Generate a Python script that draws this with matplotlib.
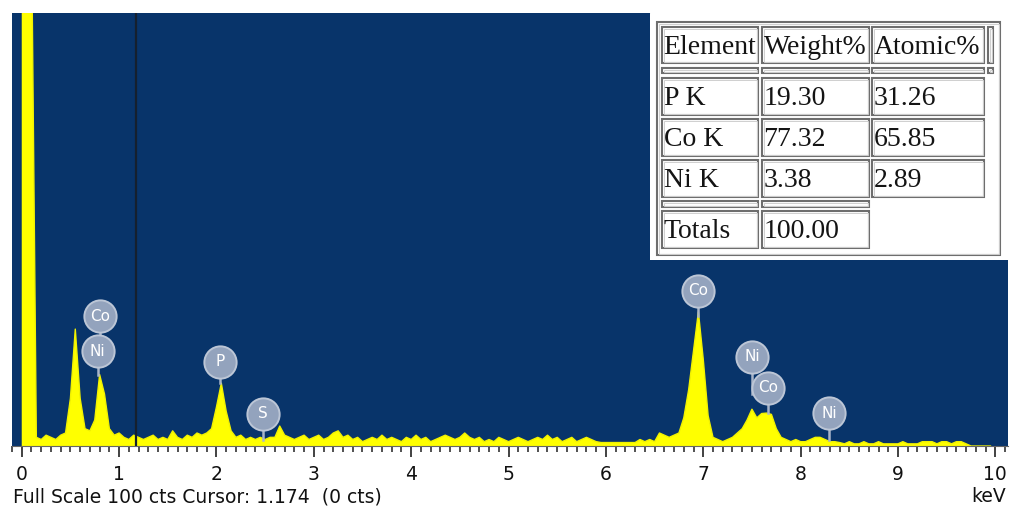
import numpy as np
import matplotlib.pyplot as plt
from matplotlib.patches import Rectangle
from matplotlib.ticker import MultipleLocator

# spectrum, counts per 0.05 keV channel starting at 0 keV
channel_kev = 0.05
counts = [
    120, 120, 120, 2.0, 1.5, 2.5, 2.0, 1.5, 2.5, 3.0,          # 0.00 - 0.45
    11, 27, 11, 4, 3.5, 6, 16.5, 12, 4, 2.5,                    # 0.50 - 0.95
    3, 2, 1.5, 2.5, 2, 1.5, 2, 2.5, 1.5, 2,                     # 1.00 - 1.45
    1.5, 3.5, 2, 1.5, 2.5, 2, 3, 2.5, 3, 4,                     # 1.50 - 1.95
    9, 14.5, 8, 3.5, 2, 2.5, 1.5, 2, 1.5, 2,                    # 2.00 - 2.45
    1.5, 2, 2, 4.6, 2.5, 2, 1.5, 2, 2.5, 1.5,                   # 2.50 - 2.95
    2, 2.5, 1.5, 2, 3, 3.5, 2, 2.5, 1.5, 2,                     # 3.00 - 3.45
    1, 1.5, 2, 1.5, 2.5, 1.5, 2, 1.5, 1, 2,                     # 3.50 - 3.95
    1.5, 2.5, 1.5, 2, 1, 1.5, 2, 2.5, 2, 1.5,                   # 4.00 - 4.45
    2, 3, 2, 1.5, 2, 1, 1.5, 1, 2, 1.5,                         # 4.50 - 4.95
    1, 1.5, 2, 1.5, 1, 1.5, 2, 1.5, 2.5, 1.5,                   # 5.00 - 5.45
    2, 1, 1.5, 2, 1, 1.5, 2, 1.5, 1, 0.8,                       # 5.50 - 5.95
    0.8, 0.8, 0.8, 0.8, 0.8, 0.8, 0.8, 1.5, 1, 1.5,             # 6.00 - 6.45
    1, 3, 2.5, 2, 2.5, 3, 6.5, 13, 22, 31,                      # 6.50 - 6.95
    20, 7, 2, 1.5, 1, 1.5, 2, 3, 4, 6,                          # 7.00 - 7.45
    8.5, 6.5, 7.5, 7.6, 7.3, 4, 2, 1.5, 1, 1.5,                 # 7.50 - 7.95
    1, 1, 1.5, 2, 2, 1.5, 1, 1, 0.8, 0.5,                       # 8.00 - 8.45
    1, 0.5, 0.5, 1, 0.5, 0.5, 1, 0.5, 0.5, 0.5,                 # 8.50 - 8.95
    0.5, 1, 0.5, 0.5, 0.5, 1, 1, 1, 0.5, 1,                     # 9.00 - 9.45
    1, 0.5, 1, 1, 0.5, 0, 0, 0, 0, 0,                           # 9.50 - 9.95
]

# peak markers
peak_labels = ['Co', 'Ni', 'P', 'S', 'Co', 'Ni', 'Co', 'Ni']
peak_kev = [0.805, 0.78, 2.04, 2.48, 6.95, 7.50, 7.67, 8.29]
peak_label_cts = [30.0, 21.9, 19.4, 7.4, 35.8, 20.6, 13.4, 7.6]
peak_stem_cts = [21.9, 16.5, 14.5, 1.5, 30.0, 12.0, 7.6, 1.5]

cursor_kev = 1.174
full_scale = 100

# quantification table
table_header = ['Element', 'Weight%', 'Atomic%']
table_elements = ['P K', 'Co K', 'Ni K']
table_weight = ['19.30', '77.32', '3.38']
table_atomic = ['31.26', '65.85', '2.89']
total_weight = '100.00'

W, H = 1011, 512
fig = plt.figure(figsize=(W / 100, H / 100), dpi=100)
fig.patch.set_facecolor('white')


def px_rect(x0, y0, x1, y1):
    return [x0 / W, 1 - y1 / H, (x1 - x0) / W, (y1 - y0) / H]


ax = fig.add_axes(px_rect(12, 13, 1008, 446))
ax.set_facecolor('#08346a')

energy = np.arange(len(counts)) * channel_kev
ax.fill_between(energy, counts, 0, color='#ffff00', lw=0)
ax.plot(energy, counts, color='#f2f200', lw=1.0)

ax.axvline(cursor_kev, color='#15202e', lw=1.6)

# peak id markers
for lab, x, yc, ys in zip(peak_labels, peak_kev, peak_label_cts, peak_stem_cts):
    ax.plot([x, x], [yc, ys], color='#a9b5c9', lw=1.8, zorder=4)
for lab, x, yc in zip(peak_labels, peak_kev, peak_label_cts):
    ax.scatter([x], [yc], s=540, color='#93a3bd', edgecolors='#bcc6d6',
               linewidths=1.4, zorder=5)
    ax.text(x, yc, lab, color='white', fontsize=11, ha='center',
            va='center', zorder=6)

ax.set_xlim(-0.10, 10.13)
ax.set_ylim(0, full_scale)
ax.set_yticks([])
ax.xaxis.set_major_locator(MultipleLocator(1))
ax.xaxis.set_minor_locator(MultipleLocator(0.1))
ax.tick_params(axis='x', which='major', length=8, width=1.3, color='#333333',
               pad=6, labelsize=13.5, labelcolor='#111111')
ax.tick_params(axis='x', which='minor', length=4, width=1.2, color='#333333')
ax.set_xticks(range(11))
for s in ['top', 'left', 'right']:
    ax.spines[s].set_visible(False)
ax.spines['bottom'].set_color('#666666')

fig.text(13 / W, 1 - 497 / H, 'Full Scale %d cts Cursor: %.3f  (0 cts)' % (full_scale, cursor_kev),
         fontsize=13.5, color='#111111', ha='left', va='center')
fig.text(1006 / W, 1 - 497 / H, 'keV', fontsize=13.5, color='#111111',
         ha='right', va='center')

# table panel, drawn in image pixel coords
tax = fig.add_axes(px_rect(650, 13, 1008, 260))
tax.set_xlim(650, 1008)
tax.set_ylim(260, 13)
tax.axis('off')
tax.add_patch(Rectangle((650, 13), 358, 247, color='white', zorder=0))


def cell(x0, y0, x1, y1, text=None):
    tax.add_patch(Rectangle((x0, y0), x1 - x0, y1 - y0, fill=False,
                            ec='#6e6e6e', lw=1.5))
    tax.add_patch(Rectangle((x0 + 1.5, y0 + 1.5), x1 - x0 - 3, y1 - y0 - 3,
                            fill=False, ec='#cfcfcf', lw=0.7))
    if text is not None:
        tax.text(x0 + 1.5, (y0 + y1) / 2 + 2, text, fontsize=20,
                 family='Liberation Serif', color='#141414',
                 ha='left', va='center')


cell(657, 22, 1000, 255)
cols = [(662, 758), (762, 869), (872, 984)]
for (c0, c1), t in zip(cols, table_header):
    cell(c0, 27, c1, 63, t)
cell(988, 27, 993, 63)
for c0, c1 in cols:
    cell(c0, 68, c1, 73)
cell(988, 68, 993, 73)
rows = [(78, 115), (119, 156), (160, 197)]
for (r0, r1), e, w, a in zip(rows, table_elements, table_weight, table_atomic):
    cell(cols[0][0], r0, cols[0][1], r1, e)
    cell(cols[1][0], r0, cols[1][1], r1, w)
    cell(cols[2][0], r0, cols[2][1], r1, a)
for c0, c1 in cols[:2]:
    cell(c0, 201, c1, 207)
cell(cols[0][0], 211, cols[0][1], 248, 'Totals')
cell(cols[1][0], 211, cols[1][1], 248, total_weight)

fig.savefig('out.png', dpi=100)
